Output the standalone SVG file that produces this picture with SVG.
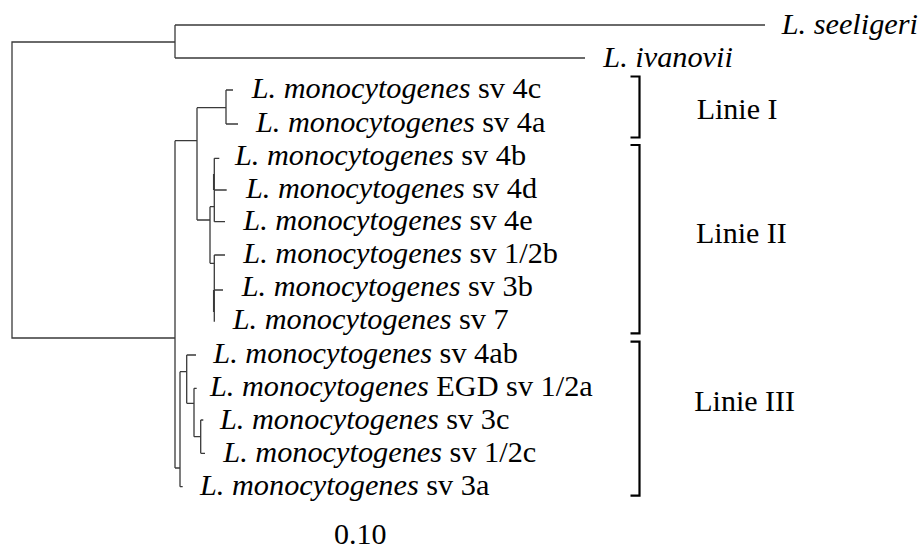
<svg xmlns="http://www.w3.org/2000/svg" width="922" height="549" viewBox="0 0 922 549">
<style>
.br{fill:none;stroke:#3a3a3a;stroke-width:1.3}
.bk{fill:none;stroke:#000;stroke-width:2.2}
.lab{font-family:'Liberation Serif','Times New Roman',serif;font-size:30px;fill:#000}
.i{font-style:italic}
</style>
<rect width="922" height="549" fill="#fff"/>
<g id="connectors">
<path class="br" d="M175,42H12V338H175"/>
<path class="br" d="M175,25V58M175,25H765M175,58H585"/>
<path class="br" d="M175,140.7V468M175,140.7H197M175,468H180"/>
<path class="br" d="M197,107.7V220M197,107.7H226M197,220H210"/>
<path class="br" d="M226,90V124M226,90H233M226,124H238"/>
<path class="br" d="M210,206.7V263.3M210,206.7H214.3M210,263.3H214.3"/>
<path class="br" d="M214.3,158.3V221.7M214.3,158.3H219.3M214.3,190H226.7M214.3,221.7H225"/>
<path class="br" d="M213.6,174V190"/>
<path class="br" d="M214.3,255V321.7M214.3,255H225M214.3,290H223"/>
<path class="br" d="M213.6,290V312"/>
<path class="br" d="M180,371.7V486.7M180,371.7H186.7M180,486.7H182.7"/>
<path class="br" d="M186.7,355V403.3M186.7,355H196M186.7,403.3H194"/>
<path class="br" d="M194,388.3V436.7M194,388.3H196.7M194,436.7H200.7"/>
<path class="br" d="M200.7,420V453.3M200.7,420H203.3M200.7,453.3H205"/>
</g>
<g id="n-seeligeri"><text class="lab i" transform="translate(781.7,34) scale(1.01,1)">L. seeligeri</text></g>
<g id="n-ivanovii"><text class="lab i" transform="translate(603.3,67) scale(1.01,1)">L. ivanovii</text></g>
<g id="n-4c"><text class="lab" transform="translate(251.7,98) scale(1.01,1)"><tspan class="i">L. monocytogenes</tspan> sv 4c</text></g>
<g id="n-4a"><text class="lab" transform="translate(256,131.5) scale(1.01,1)"><tspan class="i">L. monocytogenes</tspan> sv 4a</text></g>
<g id="n-4b"><text class="lab" transform="translate(235,165) scale(1.01,1)"><tspan class="i">L. monocytogenes</tspan> sv 4b</text></g>
<g id="n-4d"><text class="lab" transform="translate(246,197.5) scale(1.01,1)"><tspan class="i">L. monocytogenes</tspan> sv 4d</text></g>
<g id="n-4e"><text class="lab" transform="translate(243.3,230) scale(1.01,1)"><tspan class="i">L. monocytogenes</tspan> sv 4e</text></g>
<g id="n-12b"><text class="lab" transform="translate(243.3,263) scale(1.01,1)"><tspan class="i">L. monocytogenes</tspan> sv 1/2b</text></g>
<g id="n-3b"><text class="lab" transform="translate(241.7,296) scale(1.01,1)"><tspan class="i">L. monocytogenes</tspan> sv 3b</text></g>
<g id="n-7"><text class="lab" transform="translate(232.7,329) scale(1.01,1)"><tspan class="i">L. monocytogenes</tspan> sv 7</text></g>
<g id="n-4ab"><text class="lab" transform="translate(213.3,363) scale(1.01,1)"><tspan class="i">L. monocytogenes</tspan> sv 4ab</text></g>
<g id="n-egd"><text class="lab" transform="translate(210,396) scale(1.01,1)"><tspan class="i">L. monocytogenes</tspan> EGD sv 1/2a</text></g>
<g id="n-3c"><text class="lab" transform="translate(220,429) scale(1.01,1)"><tspan class="i">L. monocytogenes</tspan> sv 3c</text></g>
<g id="n-12c"><text class="lab" transform="translate(223.3,462) scale(1.01,1)"><tspan class="i">L. monocytogenes</tspan> sv 1/2c</text></g>
<g id="n-3a"><text class="lab" transform="translate(200,495) scale(1.01,1)"><tspan class="i">L. monocytogenes</tspan> sv 3a</text></g>
<g id="clade-I"><path class="bk" d="M630.5,76.5H639.5V137.5H630.5"/><text class="lab" x="696.7" y="119.3">Linie I</text></g>
<g id="clade-II"><path class="bk" d="M630.5,145H639.5V333.3H630.5"/><text class="lab" x="696" y="242.7">Linie II</text></g>
<g id="clade-III"><path class="bk" d="M630.5,341.7H639.5V495.7H630.5"/><text class="lab" x="694.3" y="411">Linie III</text></g>
<g id="scale"><text class="lab" x="334" y="544">0.10</text></g>
</svg>
